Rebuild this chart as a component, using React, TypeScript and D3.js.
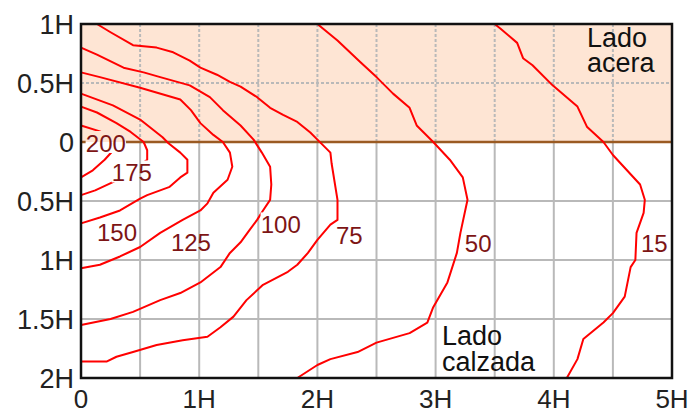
import React from "react";
import * as d3 from "d3";

// ---- data (H units: x = distance, y = height; + above, - below) ----
const c15: [number, number][] = [
  [3.5, 1.0], [3.55, 0.96], [3.69, 0.84], [3.74, 0.71], [3.82, 0.65], [3.99, 0.48],
  [4.2, 0.3], [4.28, 0.13], [4.42, 0.0], [4.5, -0.11], [4.73, -0.36], [4.77, -0.49],
  [4.76, -0.6], [4.7, -0.77], [4.69, -1.0], [4.65, -1.06], [4.6, -1.31], [4.5, -1.45],
  [4.42, -1.53], [4.25, -1.67], [4.2, -1.84], [4.11, -2.0],
];
const c50: [number, number][] = [
  [2.0, 1.0], [2.17, 0.86], [2.36, 0.68], [2.5, 0.55], [2.64, 0.41], [2.78, 0.29],
  [2.84, 0.14], [2.98, 0.0], [3.12, -0.15], [3.23, -0.3], [3.27, -0.49], [3.21, -0.77],
  [3.18, -0.94], [3.1, -1.19], [2.98, -1.4], [2.93, -1.53], [2.78, -1.62], [2.5, -1.7],
  [2.34, -1.78], [2.11, -1.84], [2.0, -1.89], [1.83, -2.0],
];
const c75: [number, number][] = [
  [0.135, 1.0], [0.25, 0.93], [0.44, 0.82], [0.64, 0.8], [0.78, 0.76], [0.92, 0.69],
  [1.01, 0.63], [1.15, 0.57], [1.26, 0.51], [1.35, 0.47], [1.49, 0.38], [1.6, 0.29],
  [1.71, 0.23], [1.83, 0.17], [1.94, 0.08], [2.0, 0.02], [2.11, -0.09], [2.12, -0.18],
  [2.17, -0.49], [2.17, -0.66], [2.11, -0.7], [2.0, -0.83], [1.92, -0.94], [1.83, -1.04],
  [1.75, -1.1], [1.54, -1.21], [1.4, -1.34], [1.29, -1.48], [1.18, -1.57], [1.07, -1.65],
  [0.86, -1.68], [0.64, -1.72], [0.44, -1.78], [0.3, -1.82], [0.22, -1.86], [0.0, -1.86],
];
const c100: [number, number][] = [
  [0.0, 0.8], [0.135, 0.74], [0.36, 0.63], [0.53, 0.59], [0.67, 0.55], [0.92, 0.48],
  [1.09, 0.38], [1.2, 0.27], [1.35, 0.14], [1.46, 0.02], [1.53, -0.09], [1.6, -0.21],
  [1.61, -0.36], [1.6, -0.49], [1.54, -0.58], [1.49, -0.66], [1.43, -0.74], [1.35, -0.85],
  [1.26, -0.94], [1.18, -1.06], [1.01, -1.19], [0.84, -1.28], [0.67, -1.34], [0.44, -1.44],
  [0.25, -1.5], [0.0, -1.55],
];
const c125: [number, number][] = [
  [0.0, 0.59], [0.16, 0.55], [0.5, 0.46], [0.84, 0.36], [0.93, 0.27], [1.01, 0.16],
  [1.12, 0.06], [1.2, 0.0], [1.26, -0.09], [1.28, -0.21], [1.24, -0.32], [1.12, -0.43],
  [1.07, -0.52], [1.01, -0.58], [0.86, -0.66], [0.67, -0.77], [0.5, -0.89], [0.33, -0.97],
  [0.16, -1.04], [0.0, -1.07],
];
const c150: [number, number][] = [
  [0.0, 0.41], [0.27, 0.31], [0.5, 0.19], [0.69, 0.04], [0.74, -0.01], [0.84, -0.09],
  [0.9, -0.15], [0.9, -0.26], [0.84, -0.3], [0.75, -0.38], [0.56, -0.45], [0.5, -0.48],
  [0.33, -0.58], [0.16, -0.64], [0.0, -0.69],
];
const c175: [number, number][] = [
  [0.0, 0.3], [0.135, 0.25], [0.3, 0.16], [0.42, 0.085], [0.53, 0.0], [0.56, -0.07],
  [0.56, -0.15], [0.42, -0.25], [0.27, -0.34], [0.12, -0.41], [0.0, -0.45],
];
const c200: [number, number][] = [
  [0.0, 0.14], [0.16, 0.09], [0.29, 0.03], [0.31, -0.03], [0.2, -0.15], [0.1, -0.24],
  [0.0, -0.3],
];
const contours = [c15, c50, c75, c100, c125, c150, c175, c200];

const labelText = ["200", "175", "150", "125", "100", "75", "50", "15"];
const labelX = [0.21, 0.43, 0.305, 0.93, 1.69, 2.27, 3.36, 4.85];
const labelY = [0.0, -0.25, -0.76, -0.84, -0.69, -0.78, -0.85, -0.85];

const xTicks = [0, 1, 2, 3, 4, 5];
const xTickLabels = ["0", "1H", "2H", "3H", "4H", "5H"];
const yTicks = [1, 0.5, 0, -0.5, -1, -1.5, -2];
const yTickLabels = ["1H", "0.5H", "0", "0.5H", "1H", "1.5H", "2H"];
const gridXs = [0.5, 1, 1.5, 2, 2.5, 3, 3.5, 4, 4.5];
const gridYsTop = [0.5];
const gridYsBottom = [-0.5, -1, -1.5];

const W = 693;
const H = 413;
const FONT = "'Liberation Sans', Arial, sans-serif";

export default function App() {
  const x = d3.scaleLinear().domain([0, 5]).range([81, 672]);
  const y = d3.scaleLinear().domain([-2, 1]).range([378, 24]);
  const line = d3
    .line<[number, number]>()
    .x((d) => x(d[0]))
    .y((d) => y(d[1]));

  const gridColor = "#b9b9b9";

  return (
    <svg
      width={W}
      height={H}
      style={{ position: "absolute", left: 0, top: 0, background: "#fff" }}
      fontFamily={FONT}
    >
      <defs>
        <mask id="lblmask" maskUnits="userSpaceOnUse" x={0} y={0} width={W} height={H}>
          <rect x={0} y={0} width={W} height={H} fill="#fff" />
          {labelText.map((t, i) => {
            const w = t.length * 12.8 + 2;
            return (
              <rect
                key={i}
                x={x(labelX[i]) - w / 2}
                y={y(labelY[i]) - 11}
                width={w}
                height={22}
                fill="#000"
              />
            );
          })}
        </mask>
      </defs>

      {/* shaded sidewalk region */}
      <rect x={x(0)} y={y(1)} width={x(5) - x(0)} height={y(0) - y(1)} fill="#fee5d4" />

      {/* grid: dashed above 0, solid below */}
      <g stroke={gridColor} strokeWidth={2} fill="none">
        {gridXs.map((g) => (
          <line key={"vt" + g} x1={x(g)} x2={x(g)} y1={y(1)} y2={y(0)} strokeDasharray="3,2" />
        ))}
        {gridXs.map((g) => (
          <line key={"vb" + g} x1={x(g)} x2={x(g)} y1={y(0)} y2={y(-2)} />
        ))}
        {gridYsTop.map((g) => (
          <line key={"ht" + g} x1={x(0)} x2={x(5)} y1={y(g)} y2={y(g)} strokeDasharray="3,2" />
        ))}
        {gridYsBottom.map((g) => (
          <line key={"hb" + g} x1={x(0)} x2={x(5)} y1={y(g)} y2={y(g)} />
        ))}
      </g>

      <g mask="url(#lblmask)">
        {/* zero line (curb) */}
        <line x1={x(0)} x2={x(5)} y1={y(0)} y2={y(0)} stroke="#9a5a22" strokeWidth={2.5} />
        {/* contour lines */}
        <g stroke="#ff0000" strokeWidth={2} fill="none" strokeLinejoin="round">
          {contours.map((c, i) => (
            <path key={i} d={line(c) || ""} />
          ))}
        </g>
      </g>

      {/* contour labels */}
      <g fill="#7d1515" fontSize={24} textAnchor="middle" dominantBaseline="central">
        {labelText.map((t, i) => (
          <text key={i} x={x(labelX[i])} y={y(labelY[i]) + 1}>
            {t}
          </text>
        ))}
      </g>

      {/* frame */}
      <rect
        x={x(0)}
        y={y(1)}
        width={x(5) - x(0)}
        height={y(-2) - y(1)}
        fill="none"
        stroke="#111"
        strokeWidth={2.5}
      />

      {/* y axis labels */}
      <g fill="#222" fontSize={27} textAnchor="end" dominantBaseline="central">
        {yTicks.map((t, i) => (
          <text key={i} x={74} y={y(t) + 1}>
            {yTickLabels[i]}
          </text>
        ))}
      </g>
      {/* x axis labels */}
      <g fill="#222" fontSize={26} textAnchor="middle">
        {xTicks.map((t, i) => (
          <text key={i} x={x(t)} y={408}>
            {xTickLabels[i]}
          </text>
        ))}
      </g>

      {/* region annotations */}
      <g fill="#111" fontSize={27}>
        <text x={587} y={47}>Lado</text>
        <text x={587} y={72}>acera</text>
        <text x={442} y={345}>Lado</text>
        <text x={442} y={371}>calzada</text>
      </g>
    </svg>
  );
}
